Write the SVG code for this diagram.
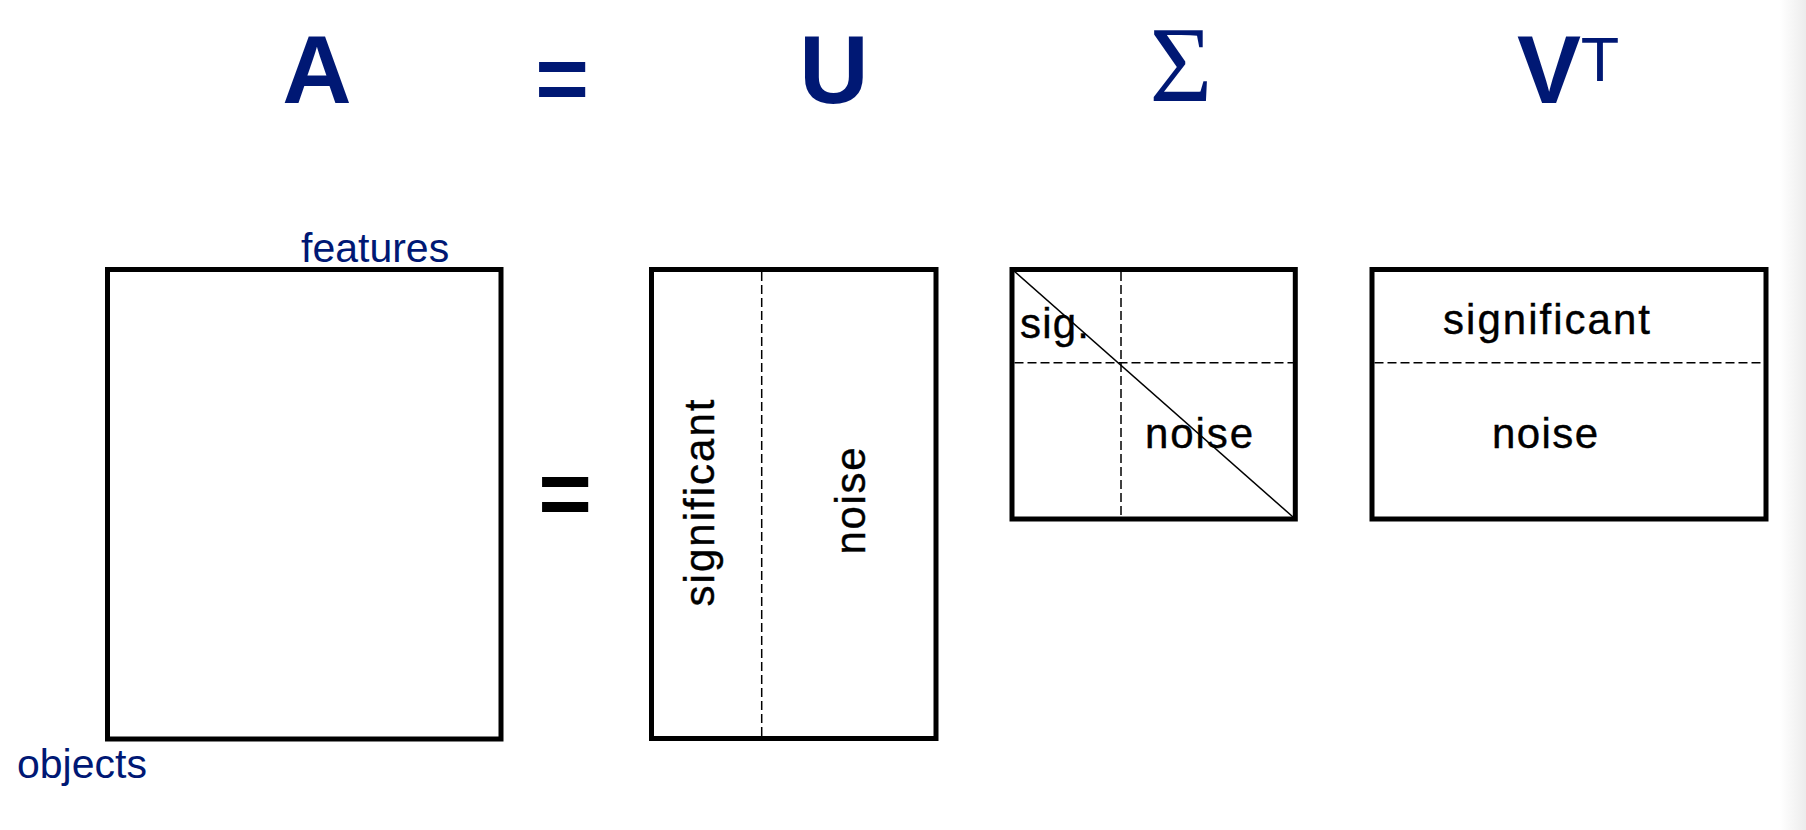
<svg xmlns="http://www.w3.org/2000/svg" width="1806" height="830" viewBox="0 0 1806 830">
<defs>
<linearGradient id="edge" x1="0" y1="0" x2="1" y2="0">
<stop offset="0" stop-color="#ffffff"/>
<stop offset="1" stop-color="#ececec"/>
</linearGradient>
<style>
.box{fill:none;stroke:#000;stroke-width:5}
.dash{fill:none;stroke:#000;stroke-width:1.5;stroke-dasharray:9 4}
.diag{fill:none;stroke:#000;stroke-width:1.5}
.title{font-family:"Liberation Sans",Arial,sans-serif;font-weight:bold;font-size:96px;fill:#001874;text-anchor:middle}
.sigma{font-family:"Liberation Serif","Times New Roman",serif;font-size:108px;fill:#001874;text-anchor:middle}
.sup{font-family:"Liberation Sans",Arial,sans-serif;font-size:63px;fill:#001874;text-anchor:middle}
.axis{font-family:"Liberation Sans",Arial,sans-serif;font-size:41px;fill:#001874}
.lbl{font-family:"Liberation Sans",Arial,sans-serif;font-size:42px;fill:#000;stroke:#000;stroke-width:0.4}
.eq{font-family:"Liberation Sans",Arial,sans-serif;font-weight:bold;font-size:92px;text-anchor:middle}
</style>
</defs>
<rect x="0" y="0" width="1806" height="830" fill="#fff"/>
<rect x="1780" y="0" width="26" height="830" fill="url(#edge)"/>

<g id="titles">
<text class="title" x="317" y="103">A</text>
<text class="eq" x="562" y="110" fill="#001874">=</text>
<text class="title" x="834" y="103">U</text>
<text class="sigma" x="1181" y="101">Σ</text>
<text class="title" x="1549" y="103">V</text>
<text class="sup" x="1600" y="81">T</text>
</g>

<g id="matrix-A">
<rect class="box" x="107.5" y="269.5" width="393.5" height="469.5"/>
<text class="axis" x="301" y="262">features</text>
<text class="axis" x="17" y="778">objects</text>
</g>

<g id="equals">
<text class="eq" x="565" y="525" fill="#000">=</text>
</g>

<g id="matrix-U">
<rect class="box" x="651.5" y="269.5" width="284.5" height="469"/>
<line class="dash" x1="761.7" y1="272" x2="761.7" y2="736"/>
<text class="lbl" transform="translate(714 503) rotate(-90)" text-anchor="middle" textLength="207" lengthAdjust="spacing">significant</text>
<text class="lbl" transform="translate(865 501) rotate(-90)" text-anchor="middle" textLength="107" lengthAdjust="spacing">noise</text>
</g>

<g id="matrix-Sigma">
<rect class="box" x="1012" y="269.5" width="283.3" height="249.5"/>
<line class="dash" x1="1121" y1="272" x2="1121" y2="516.5"/>
<line class="dash" x1="1014.5" y1="362.7" x2="1293" y2="362.7"/>
<line class="diag" x1="1014" y1="271" x2="1293" y2="517"/>
<text class="lbl" x="1020" y="338" textLength="69" lengthAdjust="spacing">sig.</text>
<text class="lbl" x="1145" y="448" textLength="108" lengthAdjust="spacing">noise</text>
</g>

<g id="matrix-VT">
<rect class="box" x="1372" y="269.5" width="394" height="249.5"/>
<line class="dash" x1="1374.5" y1="362.7" x2="1763.5" y2="362.7"/>
<text class="lbl" x="1443" y="334" textLength="207" lengthAdjust="spacing">significant</text>
<text class="lbl" x="1492" y="448" textLength="106" lengthAdjust="spacing">noise</text>
</g>
</svg>
